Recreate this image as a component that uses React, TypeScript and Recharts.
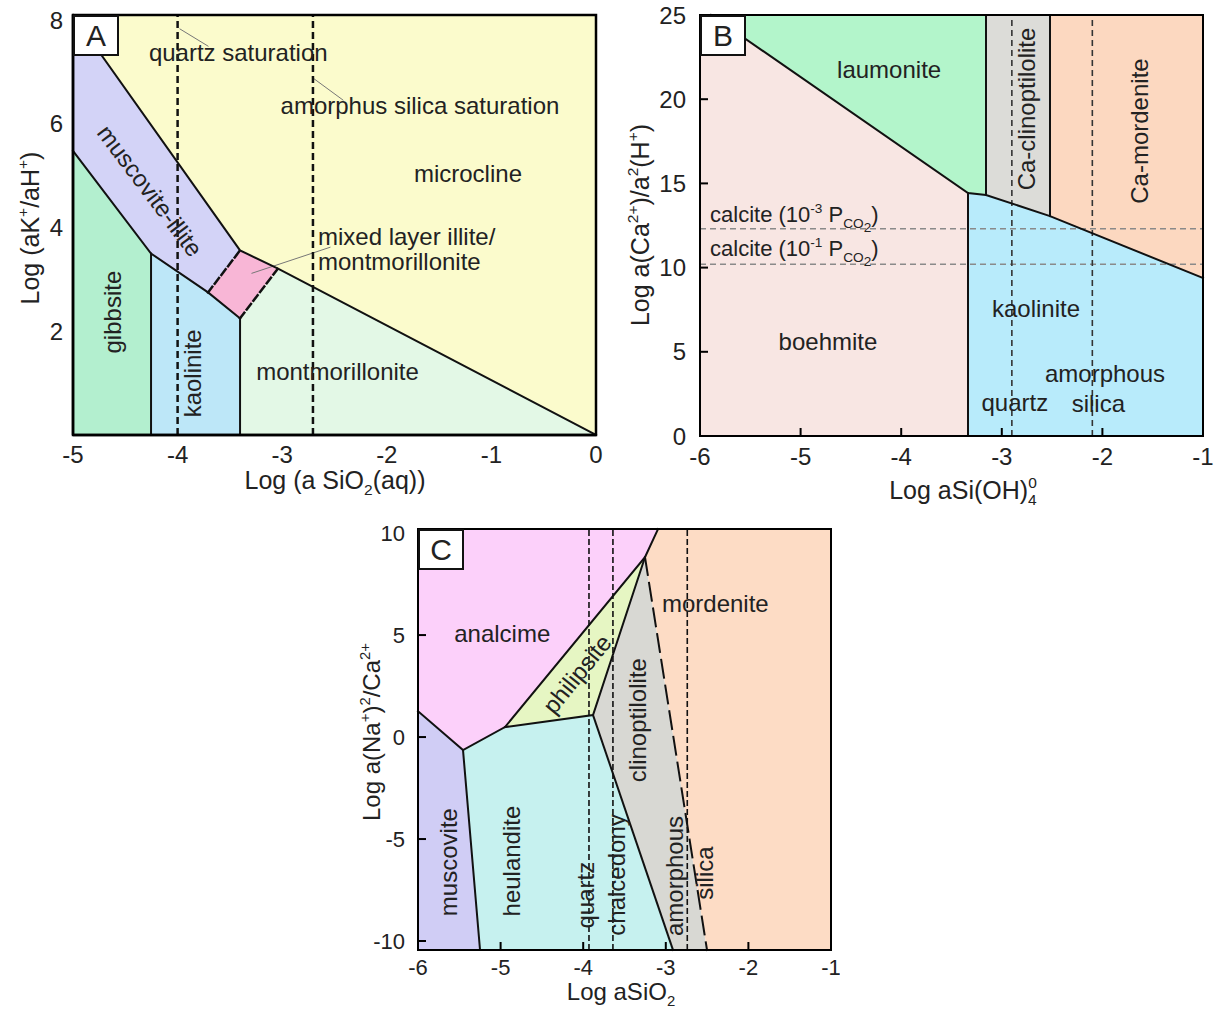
import React from 'react'
import { ComposedChart, Area, Line, XAxis, YAxis, ReferenceLine, ReferenceDot } from 'recharts'

const FONT = '"Liberation Sans", Arial, Helvetica, sans-serif'
const INK = '#222'

type Slice = { x: number; r: [number, number] }
type Pt = { x: number; y: number }
type Seg = { t: string; s?: 'sup' | 'sub' | 'subsub'; dx?: number }
type Note = { x: number; y: number; text?: string; segs?: Seg[]; angle?: number; anchor?: 'start' | 'middle' }

const p = (x: number, y: number): Pt => ({ x, y })

// ---------------- panel A: K2O-Al2O3-SiO2-H2O ----------------
const aXTicks = [-5, -4, -3, -2, -1, 0]
const aYTicks = [2, 4, 6, 8]

const aMicrocline: Slice[] = [
  { x: -5, r: [8.1, 8.1] },
  { x: -3.403, r: [3.56, 8.1] },
  { x: -3.04, r: [3.21, 8.1] },
  { x: 0, r: [0, 8.1] },
]
const aMuscovite: Slice[] = [
  { x: -5, r: [5.48, 8.1] },
  { x: -4.254, r: [3.5, 5.98] },
  { x: -3.709, r: [2.75, 4.43] },
  { x: -3.403, r: [3.56, 3.56] },
]
const aGibbsite: Slice[] = [
  { x: -5, r: [0, 5.48] },
  { x: -4.254, r: [0, 3.5] },
]
const aKaolinite: Slice[] = [
  { x: -4.254, r: [0, 3.5] },
  { x: -3.709, r: [0, 2.75] },
  { x: -3.403, r: [0, 2.25] },
]
const aMixed: Slice[] = [
  { x: -3.709, r: [2.75, 2.75] },
  { x: -3.403, r: [2.25, 3.56] },
  { x: -3.04, r: [3.21, 3.21] },
]
const aMontmorillonite: Slice[] = [
  { x: -3.403, r: [0, 2.25] },
  { x: -3.04, r: [0, 3.21] },
  { x: 0, r: [0, 0] },
]

const aBoundaries: Pt[][] = [
  [p(-5, 8.1), p(-3.403, 3.56), p(-3.04, 3.21), p(0, 0)],
  [p(-5, 5.48), p(-4.254, 3.5), p(-3.709, 2.75), p(-3.403, 2.25)],
  [p(-4.254, 0), p(-4.254, 3.5)],
  [p(-3.403, 0), p(-3.403, 2.25)],
]
const aMixedEdges: Pt[][] = [
  [p(-3.709, 2.75), p(-3.403, 3.56)],
  [p(-3.403, 2.25), p(-3.04, 3.21)],
]
const aSaturation = [-4.0, -2.706]
const aLeaders: Pt[][] = [
  [p(-3.977, 7.83), p(-3.709, 7.5)],
  [p(-2.696, 6.87), p(-2.419, 6.46)],
  [p(-3.289, 3.12), p(-2.543, 3.62)],
]
const aFrame: Pt[] = [p(-5, 0), p(-5, 8.1), p(0, 8.1), p(0, 0), p(-5, 0)]

const aNotes: Note[] = [
  { x: -3.42, y: 7.38, text: 'quartz saturation' },
  { x: -1.683, y: 6.35, text: 'amorphus silica saturation' },
  { x: -1.224, y: 5.04, text: 'microcline' },
  { x: -2.658, y: 3.82, text: 'mixed layer illite/', anchor: 'start' },
  { x: -2.658, y: 3.34, text: 'montmorillonite', anchor: 'start' },
  { x: -2.471, y: 1.22, text: 'montmorillonite' },
  { x: -4.264, y: 4.71, text: 'muscovite-illite', angle: 53 },
  { x: -4.62, y: 2.37, text: 'gibbsite', angle: -90 },
  { x: -3.853, y: 1.19, text: 'kaolinite', angle: -90 },
]

// ---------------- panel B: CaO-Al2O3-SiO2-H2O ----------------
const bXTicks = [-6, -5, -4, -3, -2, -1]
const bYTicks = [0, 5, 10, 15, 20, 25]

const bBoehmite: Slice[] = [
  { x: -6, r: [0, 25] },
  { x: -5.89, r: [0, 25] },
  { x: -3.336, r: [0, 14.43] },
]
const bLaumonite: Slice[] = [
  { x: -5.89, r: [25, 25] },
  { x: -3.336, r: [14.43, 25] },
  { x: -3.157, r: [14.31, 25] },
]
const bKaolinite: Slice[] = [
  { x: -3.336, r: [0, 14.43] },
  { x: -3.157, r: [0, 14.31] },
  { x: -2.521, r: [0, 13.06] },
  { x: -1, r: [0, 9.38] },
]
const bClinoptilolite: Slice[] = [
  { x: -3.157, r: [14.31, 25] },
  { x: -2.521, r: [13.06, 25] },
]
const bMordenite: Slice[] = [
  { x: -2.521, r: [13.06, 25] },
  { x: -1, r: [9.38, 25] },
]

const bBoundaries: Pt[][] = [
  [p(-5.89, 25), p(-3.336, 14.43), p(-3.157, 14.31), p(-2.521, 13.06), p(-1, 9.38)],
  [p(-3.336, 0), p(-3.336, 14.43)],
  [p(-3.157, 14.31), p(-3.157, 25)],
  [p(-2.521, 13.06), p(-2.521, 25)],
]
const bCalcite = [12.3, 10.2]
const bSaturation = [-2.9, -2.1]
const bFrame: Pt[] = [p(-6, 0), p(-6, 25), p(-1, 25), p(-1, 0), p(-6, 0)]

const calcite = (exp: string): Seg[] => [
  { t: 'calcite (10' },
  { t: exp, s: 'sup' },
  { t: ' P' },
  { t: 'CO', s: 'sub' },
  { t: '2', s: 'subsub' },
  { t: ')' },
]

const bNotes: Note[] = [
  { x: -4.12, y: 21.77, text: 'laumonite' },
  { x: -2.75, y: 19.42, text: 'Ca-clinoptilolite', angle: -90 },
  { x: -1.626, y: 18.11, text: 'Ca-mordenite', angle: -90 },
  { x: -4.728, y: 5.6, text: 'boehmite' },
  { x: -2.66, y: 7.56, text: 'kaolinite' },
  { x: -1.974, y: 3.7, text: 'amorphous' },
  { x: -2.04, y: 1.92, text: 'silica' },
  { x: -2.87, y: 1.96, text: 'quartz' },
]
const bCalciteNotes: Note[] = [
  { x: -5.9, y: 13.15, segs: calcite('-3'), anchor: 'start' },
  { x: -5.9, y: 11.13, segs: calcite('-1'), anchor: 'start' },
]

// ---------------- panel C: Na2O-CaO-Al2O3-SiO2-H2O ----------------
const cXTicks = [-6, -5, -4, -3, -2, -1]
const cYTicks = [-10, -5, 0, 5, 10]
const cTop = 10.2
const cBottom = -10.44

const cAnalcime: Slice[] = [
  { x: -6, r: [1.27, cTop] },
  { x: -5.455, r: [-0.64, cTop] },
  { x: -4.947, r: [0.49, cTop] },
  { x: -3.252, r: [8.82, cTop] },
  { x: -3.094, r: [cTop, cTop] },
]
const cMuscovite: Slice[] = [
  { x: -6, r: [cBottom, 1.27] },
  { x: -5.455, r: [cBottom, -0.64] },
  { x: -5.249, r: [cBottom, cBottom] },
]
const cHeulandite: Slice[] = [
  { x: -5.455, r: [-0.64, -0.64] },
  { x: -5.249, r: [cBottom, -0.18] },
  { x: -4.947, r: [cBottom, 0.49] },
  { x: -3.881, r: [cBottom, 1.08] },
  { x: -2.913, r: [cBottom, cBottom] },
]
const cPhilipsite: Slice[] = [
  { x: -4.947, r: [0.49, 0.49] },
  { x: -3.881, r: [1.08, 5.73] },
  { x: -3.252, r: [8.82, 8.82] },
]
const cClinoptilolite: Slice[] = [
  { x: -3.881, r: [1.08, 1.08] },
  { x: -3.252, r: [-6.41, 8.82] },
  { x: -2.913, r: [cBottom, 0.12] },
  { x: -2.501, r: [cBottom, cBottom] },
]
const cMordenite: Slice[] = [
  { x: -3.252, r: [8.82, 8.82] },
  { x: -3.094, r: [4.77, cTop] },
  { x: -2.501, r: [cBottom, cTop] },
  { x: -1, r: [cBottom, cTop] },
]

const cBoundaries: Pt[][] = [
  [p(-6, 1.27), p(-5.455, -0.64), p(-4.947, 0.49), p(-3.252, 8.82), p(-3.094, cTop)],
  [p(-5.455, -0.64), p(-5.249, cBottom)],
  [p(-4.947, 0.49), p(-3.881, 1.08), p(-3.252, 8.82)],
  [p(-3.881, 1.08), p(-2.913, cBottom)],
]
const cMordeniteEdge: Pt[] = [p(-3.252, 8.82), p(-2.501, cBottom)]
const cSaturation = [-3.93, -3.64, -2.74]
const cFrame: Pt[] = [p(-6, cBottom), p(-6, cTop), p(-1, cTop), p(-1, cBottom), p(-6, cBottom)]

const cNotes: Note[] = [
  { x: -4.98, y: 5.07, text: 'analcime' },
  { x: -2.4, y: 6.54, text: 'mordenite' },
  { x: -4.075, y: 3.09, text: 'philipsite', angle: -51 },
  { x: -3.337, y: 0.83, text: 'clinoptilolite', angle: -90 },
  { x: -5.625, y: -6.13, text: 'muscovite', angle: -90 },
  { x: -4.862, y: -6.08, text: 'heulandite', angle: -90 },
  { x: -3.966, y: -7.75, text: 'quartz', angle: -90 },
  { x: -3.591, y: -6.76, text: 'chalcedony', angle: -90 },
  { x: -2.889, y: -6.81, text: 'amorphous', angle: -90 },
  { x: -2.525, y: -6.67, text: 'silica', angle: -90 },
]

// ---------------- helpers ----------------
function spans(segs: Seg[], size: number) {
  let cur = 0
  return segs.map((s, i) => {
    const target =
      s.s === 'sup' ? -0.42 * size : s.s === 'sub' ? 0.25 * size : s.s === 'subsub' ? 0.45 * size : 0
    const dy = target - cur
    cur = target
    return (
      <tspan key={i} dy={dy} dx={s.dx ? s.dx * size : undefined} fontSize={s.s ? size * 0.62 : size}>
        {s.t}
      </tspan>
    )
  })
}

function TextAt(props: {
  x: number
  y: number
  size: number
  angle?: number
  anchor?: 'start' | 'middle'
  text?: string
  segs?: Seg[]
}) {
  const { x, y, size, angle = 0, anchor = 'middle', text, segs } = props
  return (
    <text
      x={x}
      y={y + 0.35 * size}
      textAnchor={anchor}
      fontSize={size}
      fontFamily={FONT}
      fill={INK}
      transform={angle ? `rotate(${angle} ${x} ${y})` : undefined}
    >
      {segs ? spans(segs, size) : text}
    </text>
  )
}

function notes(list: Note[], size: number, prefix: string) {
  return list.map((n, i) => (
    <ReferenceDot
      key={`${prefix}${i}`}
      x={n.x}
      y={n.y}
      r={0}
      ifOverflow="visible"
      shape={(d: any) => (
        <TextAt x={d.cx} y={d.cy} size={size} angle={n.angle} anchor={n.anchor} text={n.text} segs={n.segs} />
      )}
    />
  ))
}

function region(data: Slice[], fill: string, key: string) {
  return (
    <Area
      key={key}
      data={data}
      dataKey="r"
      type="linear"
      fill={fill}
      fillOpacity={1}
      stroke="none"
      dot={false}
      activeDot={false}
      isAnimationActive={false}
    />
  )
}

function polyline(pts: Pt[], key: string, stroke = '#000', width = 2, dash?: string) {
  return (
    <Line
      key={key}
      data={pts}
      dataKey="y"
      type="linear"
      stroke={stroke}
      strokeWidth={width}
      strokeDasharray={dash}
      strokeLinecap="square"
      dot={false}
      activeDot={false}
      isAnimationActive={false}
    />
  )
}

function axisTitle(segs: Seg[], dx: number, dy: number, size: number, angle = 0) {
  return (props: any) => {
    const vb = props.viewBox || { x: 0, y: 0 }
    return <TextAt x={vb.x + dx} y={vb.y + dy} size={size} angle={angle} segs={segs} />
  }
}

function PanelTag({ left, top, text }: { left: number; top: number; text: string }) {
  return (
    <div
      style={{
        position: 'absolute',
        left,
        top,
        width: 46,
        height: 41,
        boxSizing: 'border-box',
        border: '2px solid #111',
        background: '#fff',
        display: 'flex',
        alignItems: 'center',
        justifyContent: 'center',
        fontFamily: FONT,
        fontSize: 30,
        color: INK,
        lineHeight: 1,
      }}
    >
      {text}
    </div>
  )
}

const tickFont = (size: number) => ({ fontSize: size, fill: INK, fontFamily: FONT })

function PanelA() {
  return (
    <div style={{ position: 'absolute', left: 0, top: 0, width: 610, height: 500 }}>
      <ComposedChart width={610} height={500} margin={{ top: 15, right: 14, bottom: 0, left: 0 }}>
        <XAxis
          dataKey="x"
          type="number"
          domain={[-5, 0]}
          ticks={aXTicks}
          interval={0}
          height={65}
          tickLine={false}
          tickMargin={5}
          axisLine={{ stroke: '#000', strokeWidth: 2.5 }}
          tick={tickFont(24)}
          label={axisTitle([{ t: 'Log (a SiO' }, { t: '2', s: 'sub' }, { t: '(aq))' }], 262, 45, 25)}
        />
        <YAxis
          type="number"
          domain={[0, 8.1]}
          ticks={aYTicks}
          interval={0}
          width={73}
          tickLine={false}
          tickMargin={4}
          axisLine={{ stroke: '#000', strokeWidth: 2.5 }}
          tick={tickFont(24)}
          label={axisTitle(
            [{ t: 'Log (aK' }, { t: '+', s: 'sup' }, { t: '/aH' }, { t: '+', s: 'sup' }, { t: ')' }],
            30,
            213,
            25,
            -90,
          )}
        />
        {region(aMicrocline, '#fbfbcc', 'mic')}
        {region(aMuscovite, '#d3d3f7', 'mus')}
        {region(aGibbsite, '#b3efcf', 'gib')}
        {region(aKaolinite, '#bde7f8', 'kao')}
        {region(aMixed, '#f8b6d6', 'mix')}
        {region(aMontmorillonite, '#e3f8e6', 'mon')}
        {aLeaders.map((l, i) => polyline(l, `al${i}`, '#777', 1))}
        {aBoundaries.map((b, i) => polyline(b, `ab${i}`, '#111', 2))}
        {aMixedEdges.map((b, i) => polyline(b, `ae${i}`, '#111', 2.5, '7 4'))}
        {aSaturation.map((x) => (
          <ReferenceLine key={`as${x}`} x={x} stroke="#111" strokeWidth={2.5} strokeDasharray="7 4" />
        ))}
        {polyline(aFrame, 'afr', '#000', 2.5)}
        {notes(aNotes, 24, 'an')}
      </ComposedChart>
      <PanelTag left={73} top={15} text="A" />
    </div>
  )
}

function PanelB() {
  return (
    <div style={{ position: 'absolute', left: 600, top: 0, width: 614, height: 510 }}>
      <ComposedChart width={614} height={510} margin={{ top: 15, right: 11, bottom: 0, left: 0 }}>
        <XAxis
          dataKey="x"
          type="number"
          domain={[-6, -1]}
          ticks={bXTicks}
          interval={0}
          height={74}
          tickSize={-8}
          tickMargin={20}
          tickLine={{ stroke: '#000', strokeWidth: 2 }}
          axisLine={{ stroke: '#000', strokeWidth: 2 }}
          tick={tickFont(24)}
          label={axisTitle(
            [{ t: 'Log aSi(OH)' }, { t: '4', s: 'sub' }, { t: '0', s: 'sup', dx: -0.34 }],
            263,
            54,
            25,
          )}
        />
        <YAxis
          type="number"
          domain={[0, 25]}
          ticks={bYTicks}
          interval={0}
          width={100}
          tickSize={-8}
          tickMargin={22}
          tickLine={{ stroke: '#000', strokeWidth: 2 }}
          axisLine={{ stroke: '#000', strokeWidth: 2 }}
          tick={tickFont(24)}
          label={axisTitle(
            [
              { t: 'Log a(Ca' },
              { t: '2+', s: 'sup' },
              { t: ')/a' },
              { t: '2', s: 'sup' },
              { t: '(H' },
              { t: '+', s: 'sup' },
              { t: ')' },
            ],
            40,
            210,
            25,
            -90,
          )}
        />
        {region(bBoehmite, '#f8e6e3', 'boe')}
        {region(bLaumonite, '#b3f5cb', 'lau')}
        {region(bKaolinite, '#b8ebfb', 'kao')}
        {region(bClinoptilolite, '#dcdcd8', 'cli')}
        {region(bMordenite, '#fcd8c0', 'mor')}
        {bCalcite.map((y) => (
          <ReferenceLine key={`bc${y}`} y={y} stroke="#8a8a8a" strokeWidth={1.5} strokeDasharray="6 4" />
        ))}
        {bSaturation.map((x) => (
          <ReferenceLine key={`bs${x}`} x={x} stroke="#333" strokeWidth={1.6} strokeDasharray="6 4" />
        ))}
        {bBoundaries.map((b, i) => polyline(b, `bb${i}`, '#111', 2))}
        {polyline(bFrame, 'bfr', '#000', 2)}
        {notes(bNotes, 24, 'bn')}
        {notes(bCalciteNotes, 22, 'bcn')}
      </ComposedChart>
      <PanelTag left={100} top={15} text="B" />
    </div>
  )
}

function PanelC() {
  return (
    <div style={{ position: 'absolute', left: 340, top: 515, width: 500, height: 497 }}>
      <ComposedChart width={500} height={497} margin={{ top: 14, right: 9, bottom: 0, left: 0 }}>
        <XAxis
          dataKey="x"
          type="number"
          domain={[-6, -1]}
          ticks={cXTicks}
          interval={0}
          height={62}
          tickSize={-8}
          tickMargin={17}
          tickLine={{ stroke: '#000', strokeWidth: 2 }}
          axisLine={{ stroke: '#000', strokeWidth: 2 }}
          tick={tickFont(22)}
          label={axisTitle([{ t: 'Log aSiO' }, { t: '2', s: 'sub' }], 203, 42, 24)}
        />
        <YAxis
          type="number"
          domain={[cBottom, cTop]}
          ticks={cYTicks}
          interval={0}
          width={78}
          tickSize={-8}
          tickMargin={21}
          tickLine={{ stroke: '#000', strokeWidth: 2 }}
          axisLine={{ stroke: '#000', strokeWidth: 2 }}
          tick={tickFont(22)}
          label={axisTitle(
            [
              { t: 'Log a(Na' },
              { t: '+', s: 'sup' },
              { t: ')' },
              { t: '2', s: 'sup' },
              { t: '/Ca' },
              { t: '2+', s: 'sup' },
            ],
            32,
            203,
            24,
            -90,
          )}
        />
        {region(cAnalcime, '#fcd0fa', 'ana')}
        {region(cMuscovite, '#d0cdf5', 'mus')}
        {region(cHeulandite, '#c6f1ef', 'heu')}
        {region(cPhilipsite, '#e6f6c3', 'phi')}
        {region(cClinoptilolite, '#d8d8d3', 'cli')}
        {region(cMordenite, '#fddcc5', 'mor')}
        {cSaturation.map((x) => (
          <ReferenceLine key={`cs${x}`} x={x} stroke="#111" strokeWidth={1.6} strokeDasharray="6 3" />
        ))}
        {cBoundaries.map((b, i) => polyline(b, `cb${i}`, '#111', 2))}
        {polyline(cMordeniteEdge, 'cme', '#111', 2, '18 8')}
        {polyline(cFrame, 'cfr', '#000', 2)}
        {notes(cNotes, 24, 'cn')}
      </ComposedChart>
      <PanelTag left={78} top={14} text="C" />
    </div>
  )
}

export default function App() {
  return (
    <div style={{ position: 'absolute', left: 0, top: 0, width: 1214, height: 1012, background: '#fff' }}>
      <PanelA />
      <PanelB />
      <PanelC />
    </div>
  )
}
